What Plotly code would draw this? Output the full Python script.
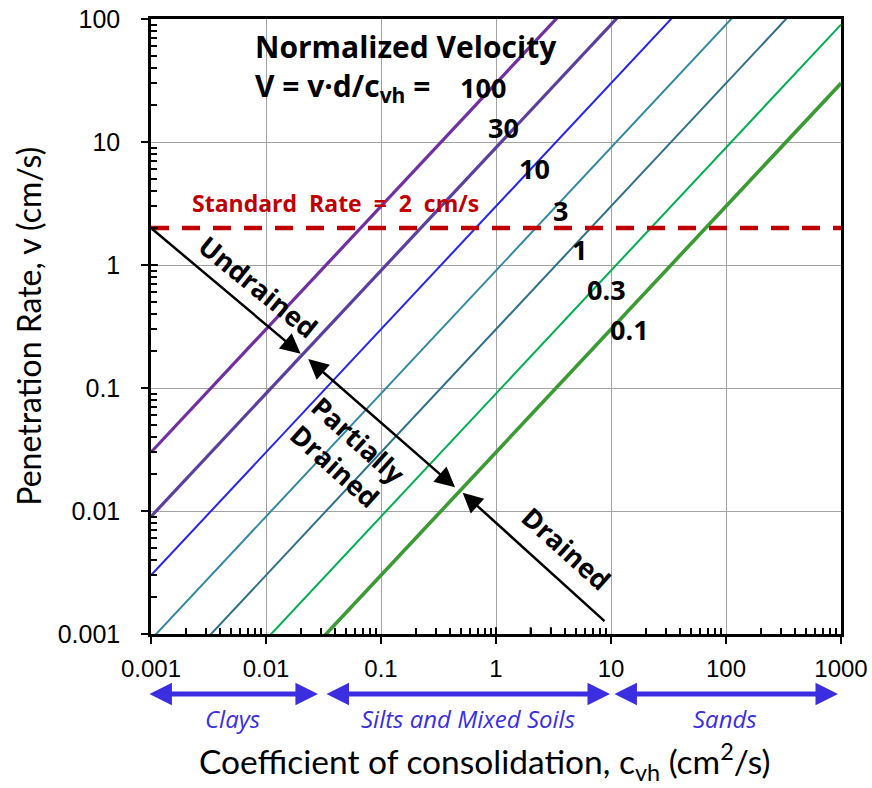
import math
import plotly.graph_objects as go

# ---- data -------------------------------------------------------------
# Normalized velocity V = v*d/c_vh drawn as iso-lines
V_values = [100, 30, 10, 3, 1, 0.3, 0.1]
V_labels = ["100", "30", "10", "3", "1", "0.3", "0.1"]

probe_diameter_cm = 3.33          # d in V = v*d/c_vh
standard_rate = 2.0               # cm/s

cvh_range = [0.001, 1000]
v_range = [0.001, 100]
x_tickvals = [0.001, 0.01, 0.1, 1, 10, 100, 1000]
x_ticktext = ["0.001", "0.01", "0.1", "1", "10", "100", "1000"]
y_tickvals = [0.001, 0.01, 0.1, 1, 10, 100]
y_ticktext = ["0.001", "0.01", "0.1", "1", "10", "100"]

soil_names = ["Clays", "Silts and Mixed Soils", "Sands"]
soil_cvh_bounds = [(0.00094, 0.0283), (0.0326, 9.8), (10.4, 942)]

# drainage arrows: (tail c_vh, tail v) -> (tip c_vh, tip v)
undrained_arrow = [(0.001, 2.0), (0.0200, 0.19)]
partial_arrow = [(0.0226, 0.176), (0.44, 0.0156)]
drained_arrow = [(9.05, 0.00124), (0.513, 0.0141)]

# ---- styling ----------------------------------------------------------
line_colors = ["#7030A0", "#5B3F9E", "#2424EE", "#3389A2", "#2F6F89", "#00B050", "#3C9A34"]
line_widths = [3.2, 3.2, 2.0, 2.0, 2.0, 2.0, 3.6]
# label anchors in log10 units (c_vh, v)
label_pos = [(-0.116, 1.445), (0.064, 1.119), (0.339, 0.786), (0.557, 0.447),
             (0.724, 0.122), (0.963, -0.203), (1.159, -0.528)]

BOLD = "Open Sans"
TEXT = "Lato"
TICK = "Liberation Sans"
RED = "#C00000"
BLUE = "#3A2EE0"

fig = go.Figure()

# iso-velocity lines, v = V * c_vh / d
for V, col, w in zip(V_values, line_colors, line_widths):
    xs = list(cvh_range)
    ys = [V * c / probe_diameter_cm for c in xs]
    fig.add_trace(go.Scatter(x=xs, y=ys, mode="lines",
                             line=dict(color=col, width=w),
                             showlegend=False, hoverinfo="skip"))

# standard penetration rate
fig.add_trace(go.Scatter(x=list(cvh_range), y=[standard_rate, standard_rate],
                         mode="lines",
                         line=dict(color=RED, width=4.5, dash="18px,13px"),
                         showlegend=False, hoverinfo="skip"))

annotations = []

# header text (two lines in one block)
annotations.append(dict(xref="paper", yref="paper", x=0.148, y=0.921,
                        xanchor="left", yanchor="middle", align="left",
                        showarrow=False,
                        text="<b>Normalized Velocity<br>V = v·d/c<sub>vh</sub> = </b>",
                        font=dict(family=BOLD, size=30, color="black")))

# V labels
for lab, (lx, ly) in zip(V_labels, label_pos):
    annotations.append(dict(xref="x", yref="y", x=lx, y=ly, showarrow=False,
                            text=f"<b>{lab}</b>",
                            font=dict(family=BOLD, size=27, color="black")))

# standard rate label
annotations.append(dict(xref="paper", yref="y", x=0.056, y=math.log10(standard_rate) + 0.2,
                        xanchor="left", yanchor="middle", showarrow=False,
                        text="<b>Standard  Rate  =  2  cm/s</b>",
                        font=dict(family=BOLD, size=23, color=RED)))


def drain_arrow(seg, both=False):
    (tx, ty), (hx, hy) = seg
    d = dict(xref="x", yref="y", axref="x", ayref="y",
             x=math.log10(hx), y=math.log10(hy),
             ax=math.log10(tx), ay=math.log10(ty),
             text="", showarrow=True, arrowhead=2, arrowsize=1.6,
             arrowwidth=2.5, arrowcolor="black", standoff=0, startstandoff=0)
    if both:
        d.update(arrowside="end+start", startarrowhead=2, startarrowsize=1.6)
    return d


annotations.append(drain_arrow(undrained_arrow))
annotations.append(drain_arrow(partial_arrow, both=True))
annotations.append(drain_arrow(drained_arrow))

# drainage zone captions
annotations.append(dict(xref="x", yref="y", x=-2.067, y=-0.176, showarrow=False,
                        text="<b>Undrained</b>", textangle=39,
                        font=dict(family=BOLD, size=27, color="black")))
annotations.append(dict(xref="x", yref="y", x=-1.296, y=-1.528, showarrow=False,
                        text="<b>Partially<br>Drained</b>", textangle=42,
                        font=dict(family=BOLD, size=27, color="black")))
annotations.append(dict(xref="x", yref="y", x=0.615, y=-2.303, showarrow=False,
                        text="<b>Drained</b>", textangle=42,
                        font=dict(family=BOLD, size=27, color="black")))

# soil classes below the c_vh axis
for name, (lo, hi) in zip(soil_names, soil_cvh_bounds):
    annotations.append(dict(xref="x", yref="paper", axref="x", ayref="pixel",
                            x=math.log10(hi), y=-0.0976, ax=math.log10(lo), ay=0,
                            text="", showarrow=True, arrowhead=2, arrowsize=0.9,
                            arrowwidth=5, arrowcolor=BLUE, arrowside="end+start",
                            startarrowhead=2, startarrowsize=0.9,
                            standoff=0, startstandoff=0))
    annotations.append(dict(xref="x", yref="paper",
                            x=(math.log10(lo) + math.log10(hi)) / 2, y=-0.1366,
                            xanchor="center", yanchor="middle",
                            showarrow=False, text=f"<i>{name}</i>",
                            font=dict(family=BOLD, size=24, color=BLUE)))

# axis titles
annotations.append(dict(xref="paper", yref="paper", x=0.484, y=-0.208,
                        xanchor="center", yanchor="middle", showarrow=False,
                        text="Coefficient of consolidation, c<sub>vh</sub> (cm<sup>2</sup>/s)",
                        font=dict(family=TEXT, size=33.5, color="black")))
annotations.append(dict(xref="paper", yref="paper", x=-0.178, y=0.50,
                        xanchor="center", yanchor="middle",
                        showarrow=False, textangle=-90,
                        text="Penetration Rate, v (cm/s)",
                        font=dict(family=TEXT, size=32, color="black")))

# inner halves of the major tick marks
shapes = []
for tv in x_tickvals:
    shapes.append(dict(type="line", xref="x", yref="y domain",
                       x0=math.log10(tv), x1=math.log10(tv), y0=0, y1=0.011,
                       line=dict(color="black", width=2)))
for tv in y_tickvals:
    shapes.append(dict(type="line", xref="x domain", yref="y",
                       x0=0, x1=0.010, y0=math.log10(tv), y1=math.log10(tv),
                       line=dict(color="black", width=2)))

minor_x = [m * 10 ** k for k in range(-3, 3) for m in range(2, 10)]
minor_y = [m * 10 ** k for k in range(-3, 2) for m in range(2, 10)]

axis_common = dict(type="log", showline=True, linewidth=2.5, linecolor="black",
                   mirror=True, showgrid=True, gridcolor="#A3A3A3", gridwidth=1,
                   ticks="outside", ticklen=7, tickwidth=2, tickcolor="black",
                   zeroline=False, automargin=False)

fig.update_xaxes(range=[math.log10(cvh_range[0]), math.log10(cvh_range[1])],
                 tickmode="array", tickvals=x_tickvals, ticktext=x_ticktext,
                 ticklabelstandoff=4,
                 tickfont=dict(family=TICK, size=24, color="black"),
                 minor=dict(tickmode="array", tickvals=minor_x, ticks="inside",
                            ticklen=6, tickwidth=1.6, tickcolor="black", showgrid=False),
                 **axis_common)
fig.update_yaxes(range=[math.log10(v_range[0]), math.log10(v_range[1])],
                 tickmode="array", tickvals=y_tickvals, ticktext=y_ticktext,
                 ticklabelstandoff=16,
                 tickfont=dict(family=TICK, size=25, color="black"),
                 minor=dict(tickmode="array", tickvals=minor_y, ticks="inside",
                            ticklen=6, tickwidth=1.6, tickcolor="black", showgrid=False),
                 **axis_common)

fig.update_layout(width=872, height=788,
                  margin=dict(l=151, r=31, t=19, b=154, autoexpand=False),
                  paper_bgcolor="white", plot_bgcolor="white",
                  annotations=annotations, shapes=shapes,
                  font=dict(family=TEXT))

fig.write_html("out.html")
